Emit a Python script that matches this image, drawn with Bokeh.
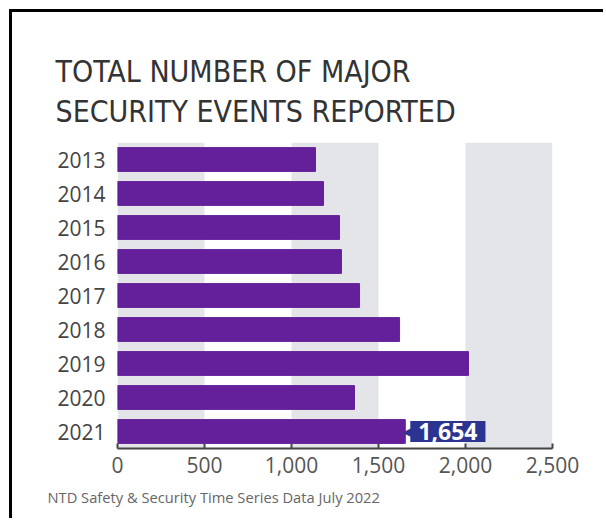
from bokeh.plotting import figure
from bokeh.models import (Range1d, FactorRange, FixedTicker, NumeralTickFormatter,
                          BoxAnnotation, Title, ColumnDataSource)
from bokeh.core.properties import value
from bokeh.embed import file_html
from bokeh.resources import INLINE

# ---- data ----
years = ["2013", "2014", "2015", "2016", "2017", "2018", "2019", "2020", "2021"]
events = [1138, 1184, 1276, 1287, 1391, 1621, 2017, 1362, 1654]
x_ticks = [0, 500, 1000, 1500, 2000, 2500]
band_starts = [0, 1000, 2000]
band_width = 500
callout_year = "2021"
callout_value = 1654

TITLE = "TOTAL NUMBER OF MAJOR\nSECURITY EVENTS REPORTED"
SOURCE = "NTD Safety & Security Time Series Data July 2022"

BAR = "#64209A"
NAVY = "#2B3591"
BAND = "#E4E5E8"

p = figure(width=594, height=509, output_backend="svg", toolbar_location=None,
           x_range=Range1d(0, 2500), y_range=FactorRange(*reversed(years), range_padding=0),
           min_border_left=105, min_border_right=54, min_border_top=130, min_border_bottom=73,
           title=None)
p.margin = (9, 0, 0, 9)
p.styles = {"border-top": "3px solid #000", "border-left": "3px solid #000"}
p.outline_line_color = None
p.background_fill_color = "white"
p.border_fill_color = "white"
p.xgrid.visible = False
p.ygrid.visible = False

for s in band_starts:
    p.add_layout(BoxAnnotation(left=s, right=s + band_width, fill_color=BAND, fill_alpha=1,
                               line_color=None, level="underlay"))

p.hbar(y=years, right=events, left=0, height=0.7, color=BAR)

# callout
cs = ColumnDataSource(dict(x=[callout_value], y=[callout_year],
                           t=[f"{callout_value:,}"], arrow=["\u25C0"]))
p.text(x="x", y="y", text="t", source=cs, x_offset=5, text_color="white",
       text_font_size="23px", text_baseline="middle", text_align="left",
       text_font=value("Open Sans"), text_font_style="bold",
       background_fill_color=NAVY, padding=dict(x=8, y=2))
p.text(x="x", y="y", text="arrow", source=cs, x_offset=-3, text_color=NAVY,
       text_font_size="13px", text_baseline="middle", text_align="left",
       text_font=value("DejaVu Sans"))

# axes
xa = p.xaxis[0]
xa.ticker = FixedTicker(ticks=x_ticks)
xa.formatter = NumeralTickFormatter(format="0,0")
xa.axis_line_color = "#444444"
xa.axis_line_width = 2
xa.major_tick_in = 5
xa.major_tick_out = 0
xa.major_tick_line_color = "#444444"
xa.major_tick_line_width = 2
xa.minor_tick_line_color = None
xa.major_label_text_font = "Open Sans"
xa.major_label_text_font_size = "21px"
xa.major_label_text_color = "#555555"
xa.major_label_standoff = 8

ya = p.yaxis[0]
ya.axis_line_color = None
ya.major_tick_line_color = None
ya.minor_tick_line_color = None
ya.major_label_text_font = "Open Sans"
ya.major_label_text_font_size = "21px"
ya.major_label_text_color = "#444444"
ya.major_label_standoff = 6

title = Title(text=TITLE, align="left", offset=-62, standoff=27,
              text_font="DejaVu Sans Condensed",
              text_font_size="30px", text_font_style="normal", text_color="#333333",
              text_line_height=1.13)
p.add_layout(title, "above")

src = Title(text=SOURCE, align="left", offset=-70, standoff=19,
            text_font="Open Sans", text_font_size="14.7px", text_font_style="normal",
            text_color="#666666")
p.add_layout(src, "below")

open("out.html", "w").write(file_html(p, INLINE))
